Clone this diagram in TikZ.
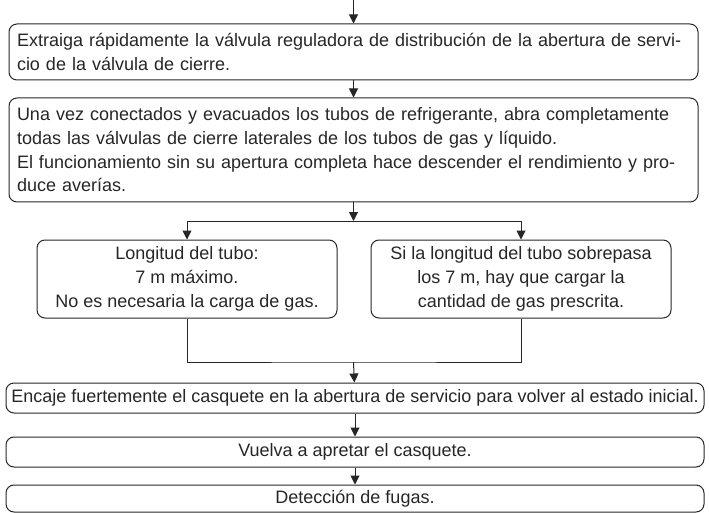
\documentclass[tikz,border=0pt]{standalone}
\usepackage{fontspec}
\setmainfont{Liberation Sans}
\usepackage{tikz}
\usetikzlibrary{arrows.meta}
\newcommand{\fillline}[1]{\makebox[\hsize][s]{#1}}

\begin{document}
\begin{tikzpicture}[x=1pt, y=1pt, >={Triangle[length=9pt, width=9pt]},
   font=\fontsize{18}{23.7}\selectfont, line width=1pt, draw=black!85, text=black!85,
   wide/.style={draw, rounded corners=8pt, text width=673pt, minimum width=689pt, inner xsep=8pt, inner ysep=2pt, align=left},
   half/.style={draw, rounded corners=8pt, minimum width=300pt, minimum height=78pt, inner sep=2pt, align=center},
   slim/.style={draw, rounded corners=8pt, minimum width=698pt, minimum height=30pt, inner xsep=1pt, inner ysep=2pt}]
  \useasboundingbox (0,0) rectangle (709,-513);
  \coordinate (start) at (353.5,0);
  \node[wide, minimum height=56pt] (extract) at (353.5,-52)
    {\fillline{Extraiga rápidamente la válvula reguladora de distribución de la abertura de servi-}\\cio de la válvula de cierre.};
  \node[wide, minimum height=104pt] (open) at (353.5,-150)
    {\fillline{Una vez conectados y evacuados los tubos de refrigerante, abra completamente}\\
     todas las válvulas de cierre laterales de los tubos de gas y líquido.\\
     \fillline{El funcionamiento sin su apertura completa hace descender el rendimiento y pro-}\\duce averías.};
  \coordinate (split) at (353.5,-221); \coordinate (splitL) at (187,-221); \coordinate (splitR) at (521,-221);
  \node[half] (short) at (187,-279) {Longitud del tubo:\\7 m máximo.\\No es necesaria la carga de gas.};
  \node[half] (long) at (521,-279) {Si la longitud del tubo sobrepasa\\los 7 m, hay que cargar la\\cantidad de gas prescrita.};
  \coordinate (join) at (353.5,-362);
  \node[slim] (cap) at (355,-398) {Encaje fuertemente el casquete en la abertura de servicio para volver al estado inicial.};
  \node[slim] (tighten) at (355,-452) {Vuelva a apretar el casquete.};
  \node[slim, minimum height=27pt] (leak) at (355,-498.5) {Detección de fugas.};
  \draw[->] (start) -- (extract); \draw[->] (extract) -- (open); \draw[->] (open) -- (split);
  \draw (splitL) -- (splitR); \draw[->] (splitL) -- (short); \draw[->] (splitR) -- (long);
  \draw (short.south) |- (join) -| (long.south);
  \draw[->] (join) -- (cap); \draw[->] (cap) -- (tighten); \draw[->] (tighten) -- (leak);
\end{tikzpicture}
\end{document}
